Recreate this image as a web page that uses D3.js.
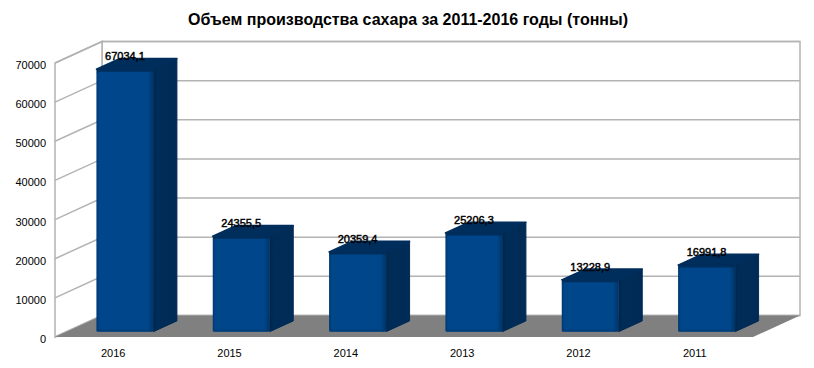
<!DOCTYPE html>
<html>
<head>
<meta charset="utf-8">
<script src="https://cdn.jsdelivr.net/npm/d3@7"></script>
<style>
  html, body { margin: 0; padding: 0; background: #fff; }
  svg { display: block; font-family: "Liberation Sans", Arial, sans-serif; }
</style>
</head>
<body>
<svg id="chart" width="814" height="368"></svg>
<script>
const title = "Объем производства сахара за 2011-2016 годы (тонны)";
const categories = ["2016", "2015", "2014", "2013", "2012", "2011"];
const values = [67034.1, 24355.5, 20359.4, 25206.3, 13228.9, 16991.8];
const valueLabels = ["67034,1", "24355,5", "20359,4", "25206,3", "13228,9", "16991,8"];
const yTicks = [0, 10000, 20000, 30000, 40000, 50000, 60000, 70000];

const svg = d3.select("#chart");

// front plane scales
const x = d3.scaleBand().domain(categories).range([55, 753]).padding(0);
const y = d3.scaleLinear().domain([0, 70000]).range([337, 63]);
// depth projection (z from 0 = front to 1 = back)
const DX = 47, DY = 21.5;
const P = (xf, v, z) => [xf + z * DX, y(v) - z * DY];
const barFrac = 0.49, z0 = 0.25, z1 = 0.75;
const bevel = 2.5; // rounded top edge of the bars

const defs = svg.append("defs");
const gFront = defs.append("linearGradient").attr("id", "gFront").attr("x1", 0).attr("x2", 1).attr("y1", 0).attr("y2", 0);
[[0, "#00386e"], [0.05, "#00468a"], [0.9, "#00468a"], [1, "#003466"]].forEach(([o, c]) =>
  gFront.append("stop").attr("offset", o).attr("stop-color", c));
const gSide = defs.append("linearGradient").attr("id", "gSide").attr("x1", 0).attr("x2", 1).attr("y1", 0).attr("y2", 0);
[[0, "#00244a"], [0.15, "#002c58"], [1, "#002b56"]].forEach(([o, c]) =>
  gSide.append("stop").attr("offset", o).attr("stop-color", c));

// title
svg.append("text")
  .attr("x", 408).attr("y", 25)
  .attr("text-anchor", "middle")
  .attr("font-size", 16).attr("font-weight", "bold")
  .attr("fill", "#000")
  .text(title);

const [x0, x1] = x.range();
const gridColor = "#b3b3b3";
const poly = (pts) => pts.map(p => p.join(",")).join(" ");

// back wall
svg.append("polygon").attr("points", poly([P(x0, 0, 1), P(x0, 70000, 1), P(x1, 70000, 1), P(x1, 0, 1)]))
  .attr("fill", "#fff").attr("stroke", gridColor).attr("stroke-width", 1.5);
// left wall
svg.append("polygon").attr("points", poly([P(x0, 0, 0), P(x0, 70000, 0), P(x0, 70000, 1), P(x0, 0, 1)]))
  .attr("fill", "#fff").attr("stroke", gridColor).attr("stroke-width", 1.5);

// gridlines
const grid = svg.append("g");
yTicks.forEach(t => {
  grid.append("polyline").attr("points", poly([P(x0, t, 0), P(x0, t, 1), P(x1, t, 1)]))
    .attr("fill", "none").attr("stroke", gridColor).attr("stroke-width", 1.5);
});

// floor
svg.append("polygon").attr("points", poly([P(x0, 0, 0), P(x0, 0, 1), P(x1, 0, 1), P(x1, 0, 0)]))
  .attr("fill", "#808080");

// y axis labels
const yAxis = d3.axisLeft(y).tickValues(yTicks).tickSize(0).tickPadding(9).tickFormat(d3.format("d"));
const ya = svg.append("g").attr("transform", "translate(55,2)").call(yAxis);
ya.select(".domain").remove();
ya.selectAll("text").attr("font-size", 11).attr("font-family", "Liberation Sans, Arial, sans-serif").attr("fill", "#000");

// x axis labels
const xAxis = d3.axisBottom(x).tickSize(0).tickPadding(12);
const xa = svg.append("g").attr("transform", "translate(0,337)").call(xAxis);
xa.select(".domain").remove();
xa.selectAll("text").attr("font-size", 11).attr("font-family", "Liberation Sans, Arial, sans-serif").attr("fill", "#000");

// bars
const bars = svg.append("g");
const topColor = "#002e5c";
categories.forEach((c, i) => {
  const v = values[i];
  const bw2 = x.bandwidth() * barFrac;
  const xl = x(c) + (x.bandwidth() - bw2) / 2, xr = xl + bw2;
  const g = bars.append("g");
  // side face
  g.append("polygon").attr("points", poly([P(xr, 0, z0), P(xr, v, z0), P(xr, v, z1), P(xr, 0, z1)]))
    .attr("fill", "url(#gSide)").attr("stroke", "#002b56").attr("stroke-width", 1).attr("stroke-linejoin", "round");
  // top face
  g.append("polygon").attr("points", poly([P(xl, v, z0), P(xl, v, z1), P(xr, v, z1), P(xr, v, z0)]))
    .attr("fill", topColor).attr("stroke", topColor).attr("stroke-width", 1.5).attr("stroke-linejoin", "round");
  const a = P(xl, v, z0), b = P(xr, 0, z0);
  // bevel strip between top and front
  g.append("rect").attr("x", a[0]).attr("y", a[1] - 0.5).attr("width", b[0] - a[0]).attr("height", bevel + 2)
    .attr("fill", topColor);
  // front face
  g.append("rect").attr("x", a[0]).attr("y", a[1] + bevel).attr("width", b[0] - a[0]).attr("height", b[1] - a[1] - bevel)
    .attr("rx", 2).attr("fill", "url(#gFront)");
  g.append("rect").attr("x", a[0]).attr("y", b[1] - 2).attr("width", b[0] - a[0]).attr("height", 2)
    .attr("fill", "#003a70").attr("opacity", 0.6);
  // value label
  const top = P(xl + bw2 / 2, v, z0), back = P(xl, v, z1);
  svg.append("text")
    .attr("x", top[0]).attr("y", back[1] + 1.5)
    .attr("text-anchor", "middle")
    .attr("font-size", 11)
    .attr("fill", "#000")
    .attr("stroke", "#000").attr("stroke-width", 0.45)
    .text(valueLabels[i]);
});
</script>
</body>
</html>
